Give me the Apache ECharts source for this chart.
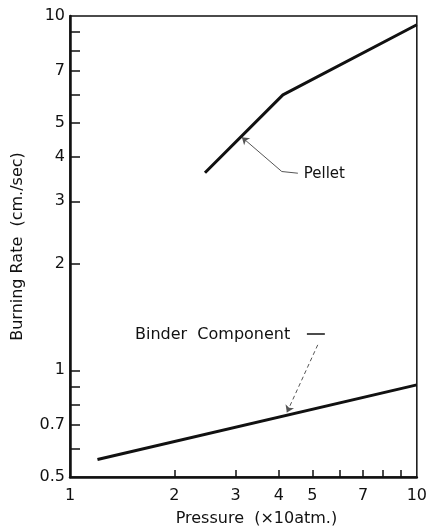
<!DOCTYPE html>
<html>
<head>
<meta charset="utf-8">
<script src="https://cdn.jsdelivr.net/npm/echarts@6/dist/echarts.min.js"></script>
<style>
  html, body { margin: 0; padding: 0; background: #fff; }
  #main { width: 430px; height: 532px; }
</style>
</head>
<body>
<div id="main"></div>
<script>
// 数据
const pelletPressure = [2.45, 4.11, 10];
const pelletRate = [3.61, 5.99, 9.45];
const binderPressure = [1.2, 10];
const binderRate = [0.56, 0.91];

// 刻度
const xLabelValues = [1, 2, 3, 4, 5, 7, 10];
const yLabelValues = [0.5, 0.7, 1, 2, 3, 4, 5, 7, 10];
const xTickValues = [2, 3, 4, 5, 6, 7, 8, 9];
const yTickValues = [0.6, 0.7, 0.8, 0.9, 1, 2, 3, 4, 5, 6, 7, 8, 9];

// 注释位置 (数据坐标)
const pelletNote = { text: 'Pellet', size: 15, at: [4.72, 3.58], tip: [3.13, 4.55], bend: [4.08, 3.64], end: [4.54, 3.6] };
const binderNote = { text: 'Binder  Component', size: 16, at: [1.54, 1.26], dash: [[4.82, 1.27], [5.43, 1.27]], from: [5.18, 1.18], tip: [4.22, 0.76] };

const fmt = v => String(+(+v).toPrecision(3));
const black = '#111';
const font = 'DejaVu Sans';

let chart = echarts.init(document.getElementById('main'));

let option = {
    animation: false,
    grid: {
        left: 70,
        right: 13,
        top: 16,
        bottom: 54,
        show: true,
        borderColor: black,
        borderWidth: 1.5
    },
    xAxis: {
        type: 'log',
        logBase: 10,
        min: 1,
        max: 10,
        name: 'Pressure  (×10atm.)',
        nameLocation: 'middle',
        nameGap: 34,
        nameTextStyle: { fontSize: 16, color: black, fontFamily: font, padding: [0, 0, 0, 26] },
        axisLine: { show: true, lineStyle: { color: black, width: 2.5 } },
        axisTick: { show: true, inside: true, length: 7, customValues: xTickValues, lineStyle: { color: black, width: 1.5 } },
        axisLabel: { customValues: xLabelValues, formatter: fmt, fontSize: 16, color: black, margin: 11, fontFamily: font },
        splitLine: { show: false },
        minorTick: { show: false }
    },
    yAxis: {
        type: 'log',
        logBase: 10,
        min: 0.5,
        max: 10,
        name: 'Burning Rate  (cm./sec)',
        nameLocation: 'middle',
        nameRotate: 90,
        nameGap: 44,
        nameTextStyle: { fontSize: 16, color: black, fontFamily: font },
        axisLine: { show: true, lineStyle: { color: black, width: 2.5 } },
        axisTick: { show: true, inside: true, length: 10, customValues: yTickValues, lineStyle: { color: black, width: 1.5 } },
        axisLabel: { customValues: yLabelValues, formatter: fmt, fontSize: 16, color: black, margin: 5, fontFamily: font },
        splitLine: { show: false },
        minorTick: { show: false }
    },
    series: [
        {
            name: 'Pellet',
            type: 'line',
            data: pelletPressure.map((p, i) => [p, pelletRate[i]]),
            showSymbol: false,
            lineStyle: { color: black, width: 3 },
            markLine: {
                silent: true,
                label: { show: false },
                lineStyle: { color: '#555', width: 1, type: 'solid' },
                symbolSize: 7,
                data: [
                    [{ coord: pelletNote.tip, symbol: 'arrow' }, { coord: pelletNote.bend, symbol: 'none' }],
                    [{ coord: pelletNote.bend, symbol: 'none' }, { coord: pelletNote.end, symbol: 'none' }]
                ]
            }
        },
        {
            name: 'Binder Component',
            type: 'line',
            data: binderPressure.map((p, i) => [p, binderRate[i]]),
            showSymbol: false,
            lineStyle: { color: black, width: 3 },
            markLine: {
                silent: true,
                label: { show: false },
                symbolSize: 7,
                data: [
                    [{ coord: binderNote.from, symbol: 'none', lineStyle: { color: '#555', width: 1, type: [4, 3] } },
                     { coord: binderNote.tip, symbol: 'arrow' }],
                    [{ coord: binderNote.dash[0], symbol: 'none', lineStyle: { color: black, width: 1.5, type: 'solid' } },
                     { coord: binderNote.dash[1], symbol: 'none' }]
                ]
            }
        }
    ]
};

chart.setOption(option);

// 注释文字
const notes = [pelletNote, binderNote].map(n => {
    const pt = chart.convertToPixel({ gridIndex: 0 }, n.at);
    return {
        type: 'text',
        x: pt[0],
        y: pt[1],
        style: {
            text: n.text,
            fill: black,
            font: n.size + 'px "DejaVu Sans"',
            verticalAlign: 'middle'
        }
    };
});
chart.setOption({ graphic: notes });
</script>
</body>
</html>
